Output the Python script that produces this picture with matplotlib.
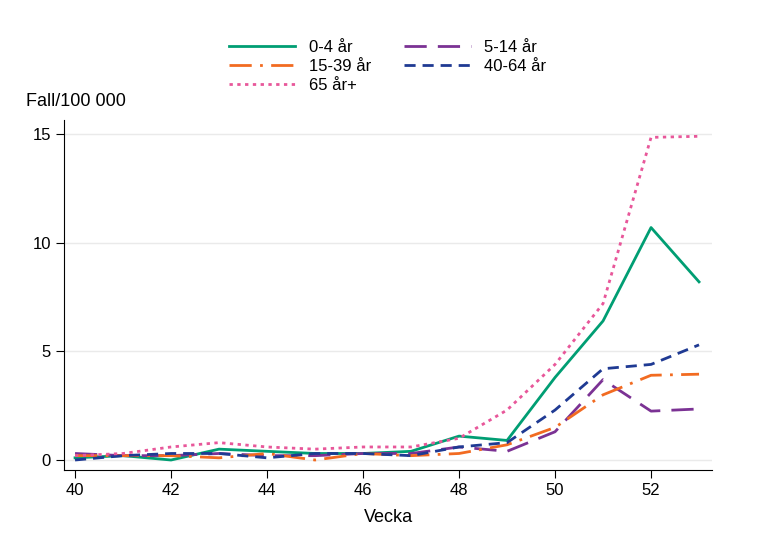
import matplotlib
matplotlib.use("Agg")
import matplotlib.pyplot as plt

plt.rcParams["font.family"] = "Liberation Sans"

weeks = list(range(40, 54))
age_0_4 = [0.1, 0.2, 0.0, 0.5, 0.4, 0.3, 0.3, 0.4, 1.1, 0.9, 3.8, 6.4, 10.7, 8.2]
age_5_14 = [0.3, 0.2, 0.2, 0.3, 0.2, 0.2, 0.3, 0.3, 0.6, 0.4, 1.3, 3.7, 2.25, 2.35]
age_15_39 = [0.2, 0.2, 0.2, 0.1, 0.3, 0.0, 0.3, 0.2, 0.3, 0.7, 1.5, 3.0, 3.9, 3.95]
age_40_64 = [0.0, 0.2, 0.3, 0.3, 0.1, 0.3, 0.3, 0.2, 0.6, 0.8, 2.3, 4.2, 4.4, 5.3]
age_65 = [0.2, 0.3, 0.6, 0.8, 0.6, 0.5, 0.6, 0.6, 1.0, 2.3, 4.4, 7.2, 14.85, 14.9]

fig = plt.figure(figsize=(7.6, 5.53), dpi=100)
ax = fig.add_axes([64/760, 1-470/553, (712-64)/760, (470-120)/553])
l1, = ax.plot(weeks, age_0_4, color="#009E73", lw=2, label="0-4 år")
l2, = ax.plot(weeks, age_5_14, color="#7B3294", lw=2, dashes=(8, 4), label="5-14 år")
l3, = ax.plot(weeks, age_15_39, color="#F26B21", lw=2, dashes=(8, 3, 1, 3), label="15-39 år")
l4, = ax.plot(weeks, age_40_64, color="#1F3A93", lw=2, dashes=(4, 2.5), label="40-64 år")
l5, = ax.plot(weeks, age_65, color="#E8579A", lw=2, dashes=(1.2, 1.6), label="65 år+")

ax.set_xlim(39.77, 53.27)
ax.set_ylim(-0.46, 15.65)
ax.set_xticks(range(40, 54, 2))
ax.set_yticks([0, 5, 10, 15])
ax.grid(axis="y", color="#eaeaea", lw=1)
ax.set_axisbelow(True)
for s in ["top", "right"]:
    ax.spines[s].set_visible(False)
ax.tick_params(labelsize=12, length=6)
ax.set_xlabel("Vecka", fontsize=13, labelpad=8)
fig.text(26/760, 1-102/553, "Fall/100 000", fontsize=13, va="center")
fig.legend(handles=[l1, l3, l5, l2, l4], ncol=2, loc="upper center",
           bbox_to_anchor=(0.51, 0.955), frameon=False, fontsize=12,
           handlelength=4, columnspacing=2.0, labelspacing=0.25)
fig.savefig("out.png", dpi=100)
